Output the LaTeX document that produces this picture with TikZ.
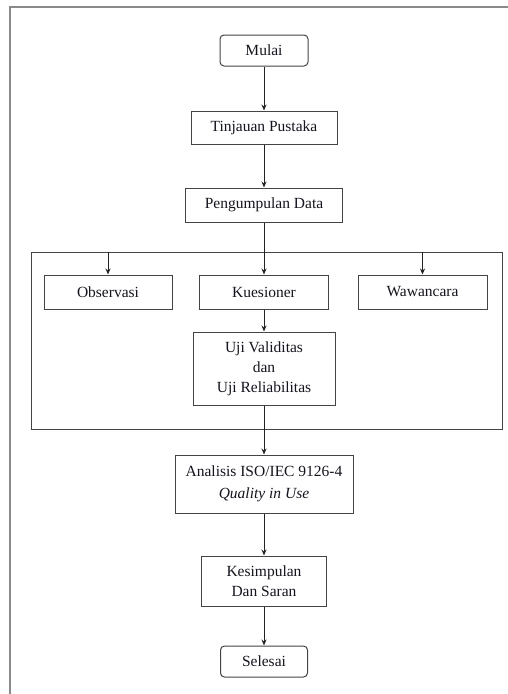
\documentclass[tikz,border=0pt]{standalone}
\usepackage{fontspec}
\setmainfont{Liberation Serif}
\usetikzlibrary{arrows.meta}
\begin{document}
\begin{tikzpicture}[x=1pt,y=-1pt,
  box/.style={draw=boxc, line width=1pt, minimum width=#1, inner sep=0pt, align=center, text=txt, font=\fontsize{15.5}{20}\selectfont},
  term/.style={box=#1, rounded corners=4pt},
  arr/.style={-{Stealth[length=6pt,width=5pt]}, line width=1pt, draw=linec},
]
\definecolor{boxc}{HTML}{444444}
\definecolor{txt}{HTML}{14141E}
\definecolor{linec}{HTML}{222222}
\definecolor{framec}{HTML}{8A8A8A}
\useasboundingbox (0,0) rectangle (508,694);
% page frame
\coordinate (ftl) at (10,7);
\coordinate (ftr) at (508,7);
\coordinate (fbl) at (10,694);
\draw[framec, line width=1.5pt] (fbl) -- (ftl) -- (ftr);

\node[term=88pt, minimum height=31pt] (mulai) at (264,50.5) {Mulai};
\node[box=146pt, minimum height=33pt] (tinjau) at (264,127.5) {Tinjauan Pustaka};
\node[box=157pt, minimum height=34pt] (kumpul) at (264,205) {Pengumpulan Data};

\node[draw=boxc, line width=1pt, minimum width=471pt, minimum height=177pt, inner sep=0pt] (grp) at (266.5,340.5) {};

\node[box=128pt, minimum height=34pt] (obs) at (108,292) {Observasi};
\node[box=129pt, minimum height=34pt] (kues) at (264,292) {Kuesioner};
\node[box=129pt, minimum height=34pt] (waw) at (422.5,292) {Wawancara};
\node[box=142pt, minimum height=73pt] (uji) at (264,368.5) {Uji Validitas\\dan\\Uji Reliabilitas};

\node[box=178pt, minimum height=58pt, font=\fontsize{15.5}{22}\selectfont] (anal) at (264,484) {Analisis ISO/IEC 9126-4\\\textit{Quality in Use}};
\node[box=125pt, minimum height=50pt] (simp) at (264,581) {Kesimpulan\\Dan Saran};
\node[term=87pt, minimum height=31pt] (selesai) at (264,661.5) {Selesai};

\draw[arr] (mulai) -- (tinjau);
\draw[arr] (tinjau) -- (kumpul);
\draw[arr] (kumpul) -- (kues);
\draw[arr] (obs.north |- grp.north) -- (obs.north);
\draw[arr] (waw.north |- grp.north) -- (waw.north);
\draw[arr] (kues) -- (uji);
\draw[arr] (uji) -- (anal);
\draw[arr] (anal) -- (simp);
\draw[arr] (simp) -- (selesai);
\end{tikzpicture}
\end{document}
